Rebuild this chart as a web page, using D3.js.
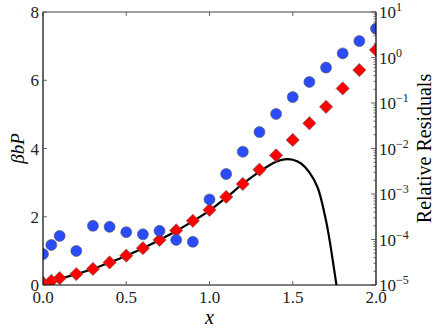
<!DOCTYPE html>
<html>
<head>
<meta charset="utf-8">
<script src="https://cdn.jsdelivr.net/npm/d3@7"></script>
<style>
  body { margin: 0; background: #fff; }
  text { font-family: "Liberation Serif", "DejaVu Serif", serif; }
</style>
</head>
<body>
<div id="chart"></div>
<script>
// data
const xs = [0, 0.05, 0.1, 0.2, 0.3, 0.4, 0.5, 0.6, 0.7, 0.8, 0.9, 1.0,
  1.1, 1.2, 1.3, 1.4, 1.5, 1.6, 1.7, 1.8, 1.9, 2.0];
const pressure = [0.06, 0.12, 0.2, 0.32, 0.47, 0.66, 0.86, 1.08, 1.32, 1.6, 1.88, 2.2,
  2.58, 2.96, 3.38, 3.8, 4.25, 4.74, 5.22, 5.76, 6.3, 6.89];
const residuals = [4.8e-5, 7.6e-5, 1.2e-4, 5.6e-5, 2.0e-4, 1.9e-4, 1.45e-4, 1.3e-4, 1.55e-4, 9.8e-5, 8.9e-5, 7.6e-4,
  2.75e-3, 8.5e-3, 2.3e-2, 5.75e-2, 0.135, 0.29, 0.6, 1.23, 2.3, 4.3];
const curveX = [0, 0.1, 0.2, 0.3, 0.4, 0.5, 0.6, 0.7, 0.8, 0.9, 1.0, 1.1, 1.2, 1.3,
  1.35, 1.4, 1.45, 1.5, 1.55, 1.6, 1.65, 1.7, 1.72, 1.74, 1.76, 1.78];
const curveY = [0.04, 0.18, 0.32, 0.47, 0.66, 0.86, 1.08, 1.32, 1.58, 1.87, 2.18, 2.56, 2.96, 3.32,
  3.48, 3.61, 3.68, 3.67, 3.56, 3.3, 2.85, 1.88, 1.35, 0.73, 0.08, -0.6];
const xTicks = [0, 0.5, 1.0, 1.5, 2.0];
const yTicks = [0, 2, 4, 6, 8];
const logTicks = [-5, -4, -3, -2, -1, 0, 1];

const width = 436, height = 332;
const m = { top: 12, right: 60, bottom: 47, left: 43 };

const svg = d3.select("#chart").append("svg")
  .attr("width", width).attr("height", height);

const x = d3.scaleLinear().domain([0, 2]).range([m.left, width - m.right]);
const y = d3.scaleLinear().domain([0, 8]).range([height - m.bottom, m.top]);
const yr = d3.scaleLog().domain([1e-5, 10]).range([height - m.bottom, m.top]);

svg.append("clipPath").attr("id", "clip")
  .append("rect")
  .attr("x", m.left).attr("y", m.top)
  .attr("width", x(2) - x(0)).attr("height", y(0) - y(8));

const plot = svg.append("g").attr("clip-path", "url(#clip)");

// series curve
const line = d3.line().x((d, i) => x(curveX[i])).y(d => y(d)).curve(d3.curveCatmullRom);
plot.append("path")
  .attr("d", line(curveY))
  .attr("fill", "none")
  .attr("stroke", "#000")
  .attr("stroke-width", 2.2);

// pressure diamonds
const diamond = d3.symbol().type(d3.symbolSquare).size(88);
plot.selectAll(".dia")
  .data(pressure)
  .join("path")
  .attr("class", "dia")
  .attr("d", diamond)
  .attr("transform", (d, i) => `translate(${x(xs[i])},${y(d)}) rotate(45)`)
  .attr("fill", "#ff0000")
  .attr("stroke", "#666")
  .attr("stroke-width", 0.6);

// residual circles
plot.selectAll(".res")
  .data(residuals)
  .join("circle")
  .attr("class", "res")
  .attr("cx", (d, i) => x(xs[i]))
  .attr("cy", d => yr(d))
  .attr("r", 5.5)
  .attr("fill", "#2a4bff")
  .attr("stroke", "#555")
  .attr("stroke-width", 0.6);

// spines
const x0 = x(0), x1 = x(2), y0 = y(0), y1 = y(8);
svg.append("line").attr("x1", x0).attr("x2", x1).attr("y1", y1).attr("y2", y1)
  .attr("stroke", "#808080").attr("stroke-width", 1.5);
svg.append("line").attr("x1", x0).attr("x2", x1).attr("y1", y0).attr("y2", y0)
  .attr("stroke", "#000").attr("stroke-width", 1.2);
svg.append("line").attr("x1", x0).attr("x2", x0).attr("y1", y0).attr("y2", y1)
  .attr("stroke", "#000").attr("stroke-width", 1.2);
svg.append("line").attr("x1", x1).attr("x2", x1).attr("y1", y0).attr("y2", y1)
  .attr("stroke", "#000").attr("stroke-width", 1.2);

const tick = svg.append("g").attr("stroke", "#444").attr("stroke-width", 0.8);

// x ticks (inward, top and bottom)
xTicks.forEach(t => {
  tick.append("line").attr("x1", x(t)).attr("x2", x(t)).attr("y1", y0).attr("y2", y0 - 4);
  tick.append("line").attr("x1", x(t)).attr("x2", x(t)).attr("y1", y1).attr("y2", y1 + 4);
});
svg.selectAll(".xt").data(xTicks).join("text")
  .attr("x", d => x(d)).attr("y", y0 + 18)
  .attr("text-anchor", "middle").attr("font-size", 17).attr("fill", "#222")
  .text(d => d.toFixed(1));

// left y ticks
yTicks.forEach(t => {
  tick.append("line").attr("x1", x0).attr("x2", x0 + 4).attr("y1", y(t)).attr("y2", y(t));
});
svg.selectAll(".yt").data(yTicks).join("text")
  .attr("x", x0 - 4).attr("y", d => y(d) + 6)
  .attr("text-anchor", "end").attr("font-size", 17).attr("fill", "#222")
  .text(d => d);

// right log ticks
logTicks.forEach(p => {
  tick.append("line").attr("x1", x1).attr("x2", x1 - 5).attr("y1", yr(10 ** p)).attr("y2", yr(10 ** p));
  if (p < 1) {
    for (let k = 2; k < 10; k++) {
      const v = k * 10 ** p;
      tick.append("line").attr("x1", x1).attr("x2", x1 - 2.5).attr("y1", yr(v)).attr("y2", yr(v));
    }
  }
});
const rl = svg.selectAll(".rt").data(logTicks).join("text")
  .attr("x", x1 + 3).attr("y", d => yr(10 ** d) + 6)
  .attr("font-size", 17).attr("fill", "#222");
rl.append("tspan").text("10");
rl.append("tspan").attr("dy", -7).attr("font-size", 12)
  .text(d => d < 0 ? "\u2212" + (-d) : d);

// axis labels
svg.append("text")
  .attr("x", (x0 + x1) / 2).attr("y", height - 8)
  .attr("text-anchor", "middle").attr("font-size", 20).attr("font-style", "italic")
  .text("x");
svg.append("text")
  .attr("transform", `translate(24,${(y0 + y1) / 2}) rotate(-90)`)
  .attr("text-anchor", "middle").attr("font-size", 19).attr("font-style", "italic")
  .text("βbP");
svg.append("text")
  .attr("transform", `translate(431,${(y0 + y1) / 2}) rotate(-90)`)
  .attr("text-anchor", "middle").attr("font-size", 20)
  .text("Relative Residuals");
</script>
</body>
</html>
